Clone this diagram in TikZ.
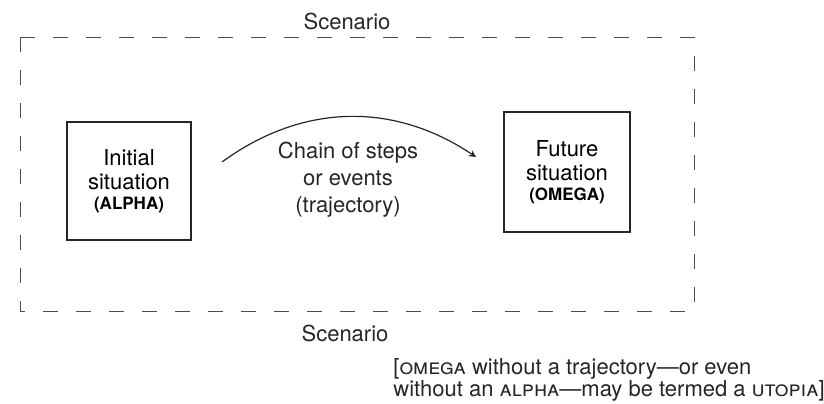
\documentclass[tikz,border=0pt]{standalone}
\usepackage{fontspec}
\setmainfont{TeX Gyre Heros}
\usepackage{tikz}

\begin{document}
\begin{tikzpicture}[x=0.5pt, y=-0.5pt,
	situation/.style={draw=black!85, line width=0.6pt, align=center, inner sep=0pt, font=\fontsize{11}{12}\selectfont},
	caption/.style={align=center, inner sep=0pt, text=black!85, font=\fontsize{11}{12}\selectfont},
	note/.style={anchor=base west, inner sep=0pt, text=black!85, font=\fontsize{11}{12}\selectfont}]
			\useasboundingbox (0,0) rectangle (824,403);
			\draw [black!70, line width=0.5pt, dash pattern=on 7.5pt off 9pt] (20,37) rectangle (694,311);
			\node [caption] (scentop) at (347,21) {Scenario};
			\node [caption] (scenbot) at (345,333) {Scenario};
			\node [situation, minimum width=62pt, minimum height=59pt] (alpha) at (129,181) {Initial\\situation\\[-2pt]{\fontsize{8.5}{10}\selectfont\bfseries (ALPHA)}};
			\node [situation, minimum width=63pt, minimum height=60pt] (omega) at (567,172) {Future\\situation\\[-2pt]{\fontsize{8.5}{10}\selectfont\bfseries (OMEGA)}};
			\node [caption, font=\fontsize{11}{13.5}\selectfont] (chain) at (348,180) {Chain of steps\\or events\\(trajectory)};
			\coordinate (arcstart) at (222,162);
			\coordinate (arcend) at (476,157);
			\draw [black!85, line width=0.6pt, -stealth] (arcstart) to [bend left=35] (arcend);
			\node [note] (noteA) at (393,374) {[\textsc{omega} without a trajectory---or even};
			\node [note] (noteB) at (393,396) {without an \textsc{alpha}---may be termed a \textsc{utopia}]};
		\end{tikzpicture}
\end{document}
